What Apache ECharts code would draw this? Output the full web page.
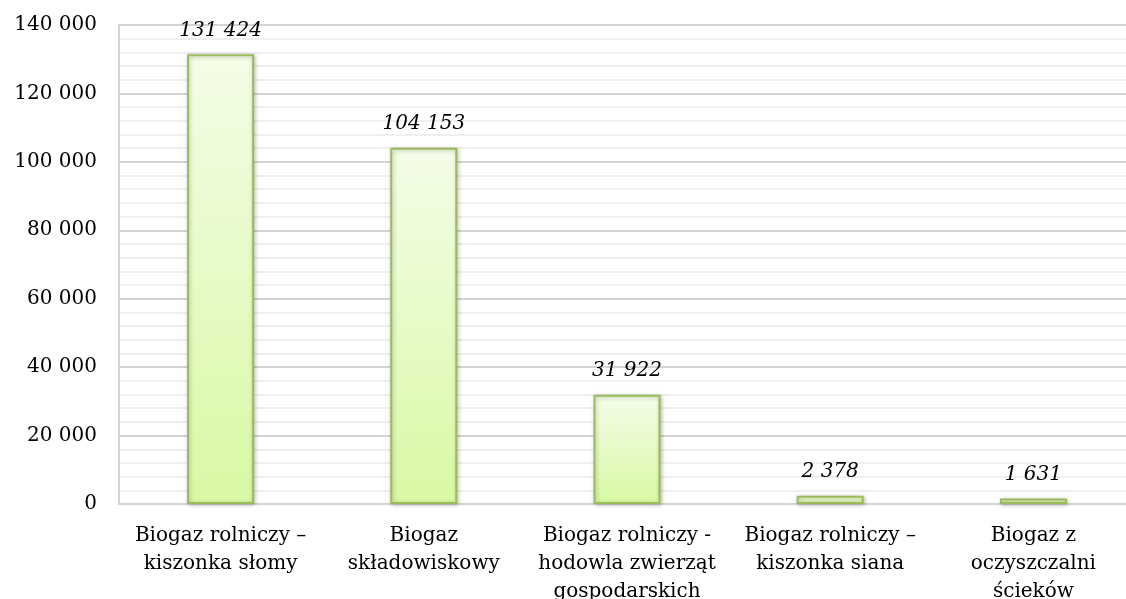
<!DOCTYPE html>
<html><head><meta charset="utf-8">
<script src="https://cdn.jsdelivr.net/npm/echarts@6/dist/echarts.min.js"></script>
<style>html,body{margin:0;padding:0;background:#fff;overflow:hidden}#c{width:1126px;height:599px}</style>
</head><body><div id="c"></div>
<script>
const categories = ["Biogaz rolniczy –\nkiszonka słomy", "Biogaz\nskładowiskowy", "Biogaz rolniczy -\nhodowla zwierząt\ngospodarskich", "Biogaz rolniczy –\nkiszonka siana", "Biogaz z\noczyszczalni\nścieków"];
const values = [131424, 104153, 31922, 2378, 1631];
const yMin = 0, yMax = 140000, yStep = 20000;

function fmt(v){ return String(v).replace(/\B(?=(\d{3})+(?!\d))/g, ' '); }
const font = 'DejaVu Serif';
const chart = echarts.init(document.getElementById('c'), null, {renderer:'canvas'});
chart.setOption({
  animation:false,
  grid:{left:119, top:25, width:1016, height:479, containLabel:false, outerBoundsMode:'none'},
  xAxis:{type:'category', data:categories,
    axisLine:{show:true, lineStyle:{color:'#d4d4d4', width:2}},
    axisTick:{show:false},
    axisLabel:{interval:0, color:'#000', fontFamily:font, fontSize:20, lineHeight:28, margin:18},
    splitLine:{show:false}},
  yAxis:{type:'value', min:yMin, max:yMax, interval:yStep,
    axisLine:{show:true, lineStyle:{color:'#d4d4d4', width:2}},
    axisTick:{show:false},
    axisLabel:{color:'#000', fontFamily:font, fontSize:20, margin:22, formatter:fmt},
    splitLine:{show:true, lineStyle:{color:'#d4d4d4', width:2}},
    minorTick:{show:false, splitNumber:5},
    minorSplitLine:{show:true, lineStyle:{color:'#efefef', width:2}}},
  series:[{type:'bar', data:values, barWidth:67,
    itemStyle:{
      color:new echarts.graphic.LinearGradient(0,0,0,1,[{offset:0,color:'#f4fde8'},{offset:1,color:'#d8f9a4'}]),
      borderColor:'#9bbb59', borderWidth:2,
      shadowColor:'rgba(0,0,0,0.25)', shadowBlur:4, shadowOffsetX:1, shadowOffsetY:1},
    label:{show:true, position:'top', distance:14, color:'#000', fontFamily:font, fontStyle:'italic', fontSize:20,
      formatter:p=>fmt(p.value)}
  }]
});
</script></body></html>
